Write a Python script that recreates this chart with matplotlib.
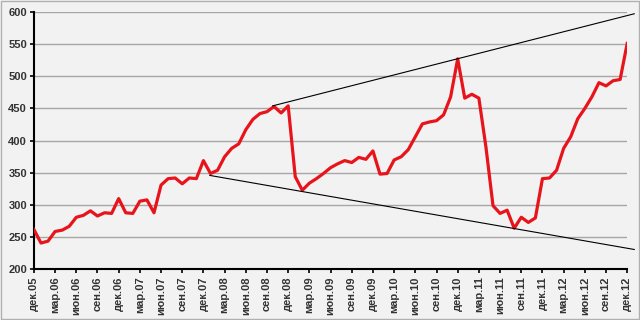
import numpy as np
import matplotlib
matplotlib.use('Agg')
import matplotlib.pyplot as plt
from matplotlib.patches import Rectangle

plt.rcParams['font.family'] = ['Liberation Sans', 'DejaVu Sans']

##############  DADOS  ###############

# meses de dez.05 a dez.12 (85 pontos)
valores = [262, 241, 244, 259, 261, 267, 281, 284, 291, 283, 288, 287,
           310, 288, 287, 306, 308, 288, 331, 341, 342, 333, 342, 341,
           369, 349, 354, 375, 388, 395, 417, 433, 442, 445, 453, 443,
           454, 344, 323, 334, 341, 349, 358, 364, 369, 366, 374, 371,
           384, 348, 349, 370, 375, 386, 406, 426, 429, 431, 440, 468,
           527, 466, 472, 466, 390, 299, 287, 292, 264, 281, 273, 280,
           341, 342, 354, 388, 406, 434, 450, 468, 490, 485, 493, 495,
           551]

meses = ['дек', 'мар', 'июн', 'сен']
anos = ['05', '06', '07', '08', '09', '10', '11', '12']

# linhas de tendencia (indice do mes, valor)
topo_x = [33.8, 85]
topo_y = [454, 597]
fundo_x = [24.9, 85]
fundo_y = [346, 231]

##############  GRAFICO  ###############

x = np.arange(len(valores))
rotulos = []
for i in range(0, len(valores), 3):
    m = meses[(i // 3) % 4]
    a = anos[(11 + i) // 12]     # dez.05 = mes 11 de 2005
    rotulos.append(m + '.' + a)

fig = plt.figure(figsize=(6.4, 3.2), dpi=100, facecolor='#f2f2f2')
ax = fig.add_axes([0.053, 0.158, 0.927, 0.805])
ax.set_facecolor('#f2f2f2')

ax.grid(axis='y', color='#a6a6a6', linewidth=1.0, zorder=0)
ax.plot(x, valores, color='#e8141b', linewidth=2.3, zorder=3)

ax.plot(topo_x, topo_y, color='black', linewidth=0.8, zorder=4, clip_on=False)
ax.plot(fundo_x, fundo_y, color='black', linewidth=0.8, zorder=4, clip_on=False)

ax.set_xlim(0, len(valores) - 1)
ax.set_ylim(200, 600)
ax.set_yticks(np.arange(200, 601, 50))
ax.set_xticks(x[::3])
ax.set_xticklabels(rotulos, rotation=90)

for s in ['top', 'right']:
    ax.spines[s].set_visible(False)
for s in ['left', 'bottom']:
    ax.spines[s].set_linewidth(1.5)
    ax.spines[s].set_color('black')

ax.tick_params(axis='both', direction='out', length=3, width=1.2,
               labelsize=8, labelcolor='#333333', pad=2)
for t in ax.get_xticklabels() + ax.get_yticklabels():
    t.set_fontweight('bold')

# moldura
fig.patches.append(Rectangle((0.001, 0.002), 0.997, 0.995, transform=fig.transFigure,
                             fill=False, edgecolor='#b0b0b0', linewidth=1))

fig.savefig('out.png', dpi=100, facecolor=fig.get_facecolor())
